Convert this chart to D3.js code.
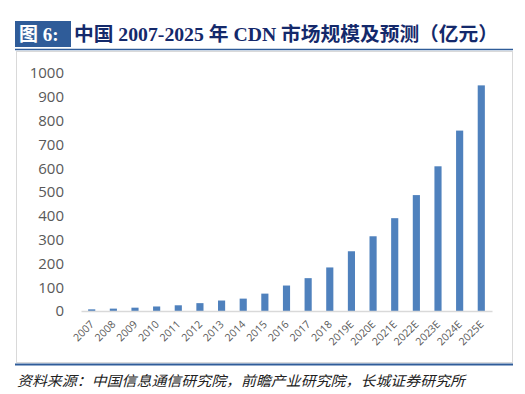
<!DOCTYPE html>
<html><head><meta charset="utf-8">
<script src="https://cdn.jsdelivr.net/npm/d3@7"></script>
<style>body{margin:0;background:#fff}svg{display:block}</style>
</head><body><svg id="c" width="525" height="394"></svg>
<script>
const categories = ["2007","2008","2009","2010","2011","2012","2013","2014","2015","2016","2017","2018","2019E","2020E","2021E","2022E","2023E","2024E","2025E"];
const values = [7,10,14,19,24,33,44,52,73,107,138,183,251,314,390,487,608,758,948];
const yTicks = [0,100,200,300,400,500,600,700,800,900,1000];
const titleLabel = "图 6:";
const titleText = "中国 2007-2025 年 CDN 市场规模及预测（亿元）";
const sourceText = "资料来源：中国信息通信研究院，前瞻产业研究院，长城证券研究所";

const svg = d3.select("#c");
// title
svg.append("rect").attr("x",15).attr("y",21).attr("width",56).attr("height",26).attr("fill","#2F5C99");
svg.append("text").attr("x",19).attr("y",41).text(titleLabel)
  .attr("fill","#fff").attr("font-family","'Liberation Serif','Noto Sans CJK SC'").attr("font-weight","bold").attr("font-size",19);
svg.append("text").attr("x",74).attr("y",41).text(titleText)
  .attr("fill","#14296B").attr("font-family","'Liberation Serif','Noto Sans CJK SC'").attr("font-weight","bold").attr("font-size",19)
  .attr("textLength",424).attr("lengthAdjust","spacingAndGlyphs");
svg.append("line").attr("x1",15).attr("x2",513).attr("y1",49.5).attr("y2",49.5).attr("stroke","#2F5C99").attr("stroke-width",1.5);
// chart box
svg.append("rect").attr("x",16.5).attr("y",51.5).attr("width",496).attr("height",311).attr("fill","none").attr("stroke","#D9D9D9").attr("stroke-width",1);
svg.append("line").attr("x1",15).attr("x2",513).attr("y1",364.5).attr("y2",364.5).attr("stroke","#2F5C99").attr("stroke-width",2);
svg.append("text").attr("x",17).attr("y",386).text(sourceText)
  .attr("fill","#222").attr("font-family","'Noto Sans CJK SC'").attr("font-style","italic").attr("font-size",14)
  .attr("textLength",448).attr("lengthAdjust","spacingAndGlyphs");

const x = d3.scaleBand().domain(categories).range([81,492]).paddingInner(0.67).paddingOuter(0.33);
const y = d3.scaleLinear().domain([0,1000]).range([311,73]);

const yAxis = svg.append("g").attr("transform","translate(64,0)")
  .call(d3.axisLeft(y).tickValues(yTicks).tickSize(0).tickPadding(0).tickFormat(d3.format("d")));
yAxis.select(".domain").remove();
yAxis.selectAll("text").attr("fill","#595959").attr("font-family","'Open Sans','Liberation Sans'").attr("font-size",15);

svg.append("g").selectAll("rect").data(values).join("rect")
  .attr("x",(d,i)=>x(categories[i])).attr("width",x.bandwidth())
  .attr("y",d=>y(d)).attr("height",d=>y(0)-y(d)).attr("fill","#4F81BD");

const xAxis = svg.append("g").attr("transform","translate(0,311)")
  .call(d3.axisBottom(x).tickSize(0).tickPadding(0));
xAxis.select(".domain").attr("stroke","#D9D9D9").attr("stroke-width",1.5);
xAxis.selectAll("text").attr("fill","#595959").attr("font-family","'Open Sans','Liberation Sans'").attr("font-size",10.5)
  .attr("text-anchor","end").attr("dy",0).attr("transform","translate(3,14) rotate(-45)");
</script></body></html>
